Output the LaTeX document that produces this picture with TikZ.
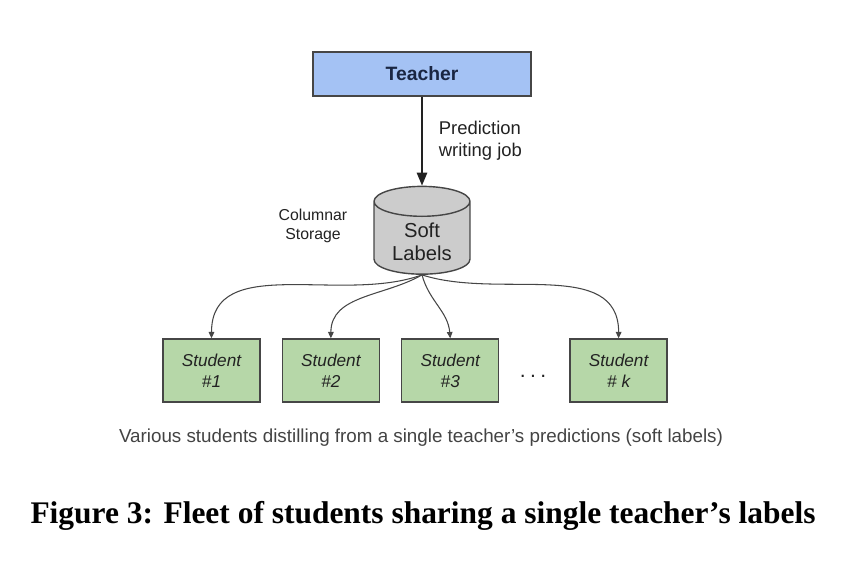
\documentclass[tikz,border=0pt]{standalone}
\usepackage{fontspec}
\setmainfont{Liberation Serif}
\setsansfont{Liberation Sans}
\usetikzlibrary{shapes.geometric, arrows.meta, positioning}
\definecolor{teacherblue}{RGB}{164,194,244}
\definecolor{teacherink}{RGB}{26,38,66}
\definecolor{studentgreen}{RGB}{182,215,168}
\definecolor{storegray}{RGB}{204,204,204}
\definecolor{edgegray}{RGB}{70,70,70}
\definecolor{inkdark}{RGB}{34,34,34}
\tikzset{
  box/.style={rectangle, draw=edgegray, line width=0.8pt, align=center},
  teacherbox/.style={box, fill=teacherblue, text=teacherink, minimum width=4.36cm,
    minimum height=0.88cm, font=\sffamily\bfseries\fontsize{11}{13}\selectfont},
  studentbox/.style={box, fill=studentgreen, text=inkdark, minimum width=1.94cm,
    minimum height=1.26cm, font=\sffamily\itshape\fontsize{9.8}{12}\selectfont},
  storage/.style={cylinder, shape border rotate=90, aspect=0.42, draw=edgegray,
    line width=0.8pt, fill=storegray, minimum width=1.92cm, minimum height=1.6cm,
    align=center, text=inkdark, font=\sffamily\fontsize{11.5}{13}\selectfont},
  note/.style={text=inkdark, font=\sffamily\fontsize{10.5}{12.5}\selectfont},
  arrow/.style={-{Triangle[length=7.4pt, width=5.8pt]}, line width=1.2pt, color=inkdark},
  thinarrow/.style={-{Triangle[length=3.6pt, width=3.2pt]}, line width=0.6pt, color=edgegray},
}
\begin{document}
\begin{tikzpicture}[x=0.02cm, y=-0.02cm, node distance=0.42cm]
  \useasboundingbox (0,0) rectangle (845,563);
  \node[teacherbox] (teacher) at (422,74) {Teacher};
  \node[storage, below=1.78cm of teacher] (soft) {Soft\\Labels};
  \draw[arrow] (teacher) -- (soft.north)
    node[midway, right, xshift=0.2cm, note, align=left]{Prediction\\writing job};
  \node[note, align=center, font=\sffamily\fontsize{9}{11}\selectfont] (colstore)
    at (313,226) {Columnar\\Storage};

  % student row
  \node[studentbox] (s1) at (211.5,370.5) {Student\\\#1};
  \node[studentbox, right=of s1] (s2) {Student\\\#2};
  \node[studentbox, right=of s2] (s3) {Student\\\#3};
  \node[studentbox, right=1.4cm of s3] (sk) {Student\\\# \textit{k}};
  \node[note, font=\sffamily\fontsize{12}{14}\selectfont] (dots) at (533,376)
    {.\kern2.5pt.\kern2.5pt.};
  \draw[thinarrow] (soft.south) to[out=-160, in=90] (s1.north);
  \draw[thinarrow] (soft.south) to[out=-150, in=90] (s2.north);
  \draw[thinarrow] (soft.south) to[out=-75, in=95] (s3.north);
  \draw[thinarrow] (soft.south) to[out=-18, in=90] (sk.north);

  \node[text=inkdark!85, font=\sffamily\fontsize{10.7}{13}\selectfont] (desc) at (421,438)
    {Various students distilling from a single teacher’s predictions (soft labels)};
  \node[font=\rmfamily\bfseries\fontsize{17.9}{21}\selectfont] (caption) at (423,516)
    {Figure 3: Fleet of students sharing a single teacher’s labels};
\end{tikzpicture}
\end{document}
